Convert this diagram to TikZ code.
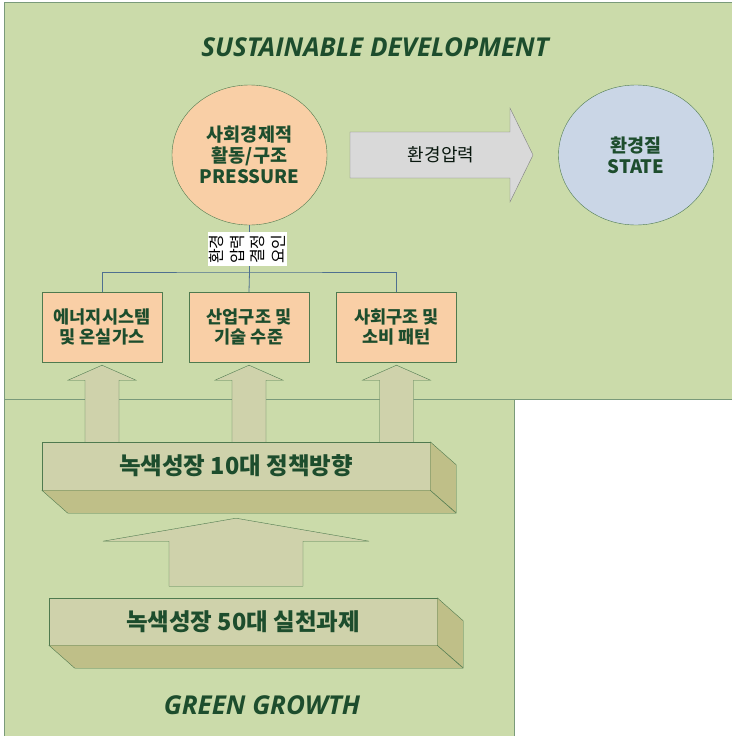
\documentclass[tikz,border=0pt]{standalone}
\usepackage{fontspec}
\setmainfont{Noto Sans CJK KR}
\newfontfamily\titlefont{Open Sans}
\usetikzlibrary{calc,shapes.geometric}
\definecolor{fundo}{HTML}{CBDBAA}
\definecolor{bordapainel}{HTML}{7A9A7A}
\definecolor{borda}{HTML}{4F7A4F}
\definecolor{verdeescuro}{HTML}{1D4D2D}
\definecolor{pessego}{HTML}{F9CFA6}
\definecolor{azulclaro}{HTML}{CAD6E6}
\definecolor{cinza}{HTML}{D9D9D9}
\definecolor{bege}{HTML}{CFD2AB}
\definecolor{begeescuro}{HTML}{BFBF88}
\definecolor{ligacaoazul}{HTML}{4F7090}

\begin{document}
\begin{tikzpicture}[x=1pt,y=-1pt,
  painel/.style={fill=fundo,draw=bordapainel,line width=1pt},
  titulo/.style={text=verdeescuro,font=\titlefont\bfseries\itshape\fontsize{26}{30}\selectfont},
  circulo/.style={ellipse,draw=borda,minimum width=155pt,minimum height=140pt,align=center,
    text=verdeescuro,font=\bfseries\fontsize{18.5}{21}\selectfont},
  caixa/.style={rectangle,draw=borda,fill=pessego,minimum width=120pt,minimum height=70pt,
    align=center,text=verdeescuro,font=\bfseries\fontsize{17.5}{19.5}\selectfont},
  bloco/.style={rectangle,draw=borda,fill=bege,minimum width=388pt,minimum height=48pt,
    text=verdeescuro,font=\bfseries\fontsize{23.5}{26}\selectfont},
  blocolado/.style={draw=borda,fill=begeescuro,line join=round},
  setabege/.style={draw=borda,fill=bege},
  setacinza/.style={draw=gray,fill=cinza},
  ligacao/.style={draw=ligacaoazul,line width=0.8pt},
  rotulo/.style={fill=white,rotate=90,align=center,inner sep=2pt,
    font=\fontsize{16}{20.5}\selectfont}]
\useasboundingbox (0,0) rectangle (731,736);
	% paineis
	\draw[painel] (4,2) rectangle (745,399);
	\draw[painel] (4,399) rectangle (514,750);
	% titulos
	\node[titulo] (sd) at (375,47) {SUSTAINABLE DEVELOPMENT};
	\node[titulo] (gg) at (262,705) {GREEN GROWTH};
	% circulos
	\node[circulo,fill=pessego] (press) at (249.5,155) {사회경제적\\활동/구조\\PRESSURE};
	\node[circulo,fill=azulclaro] (state) at (636,155) {환경질\\STATE};
	% seta cinza
	\draw[setacinza] (350,132) -- (510,132) -- (510,108) -- (533,155) -- (510,202) -- (510,178) -- (350,178) -- cycle;
	\node[text=black!70!verdeescuro,font=\fontsize{18}{21}\selectfont] (pressao) at (441,155) {환경압력};
	% caixas
	\node[caixa] (b1) at (102,327) {에너지시스템\\및 온실가스};
	\node[caixa] (b2) at (249,327) {산업구조 및\\기술 수준};
	\node[caixa] (b3) at (396.5,327) {사회구조 및\\소비 패턴};
	% ligacoes
	\coordinate (bus) at (249.5,272);
	\draw[ligacao] (press.south) -- (bus);
	\draw[ligacao] (b1.north) |- (bus) -| (b3.north);
	\draw[ligacao] (bus) -- (b2.north);
	\node[rotulo] (fator) at (247.5,249) {환경\\압력\\결정\\요인};
	% setas para cima
	\foreach \b in {b1,b2,b3}
	  \draw[setabege] ($(\b.south)+(0,3)$) -- ++(34,15) -- ++(-17,0) -- ++(0,66) -- ++(-34,0) -- ++(0,-66) -- ++(-17,0) -- cycle;
	% bloco 10 dae
	\node[bloco] (dez) at (236,466) {녹색성장 10대 정책방향};
	\draw[blocolado] (dez.south west) -- (dez.south east) -- ++(26,23) -- ($(dez.south west)+(26,23)$) -- cycle;
	\draw[blocolado] (dez.north east) -- ++(26,23) -- ++(0,48) -- (dez.south east) -- cycle;
	% seta grande
	\draw[setabege] ($(dez.south)+(0,28)$) -- ++(133,23) -- ++(-66,0) -- ++(0,45) -- ++(-134,0) -- ++(0,-45) -- ++(-66,0) -- cycle;
	% bloco 50 dae
	\node[bloco,minimum height=47pt] (cinq) at (243,621.5) {녹색성장 50대 실천과제};
	\draw[blocolado] (cinq.south west) -- (cinq.south east) -- ++(26,23) -- ($(cinq.south west)+(26,23)$) -- cycle;
	\draw[blocolado] (cinq.north east) -- ++(26,23) -- ++(0,47) -- (cinq.south east) -- cycle;
\end{tikzpicture}
\end{document}
